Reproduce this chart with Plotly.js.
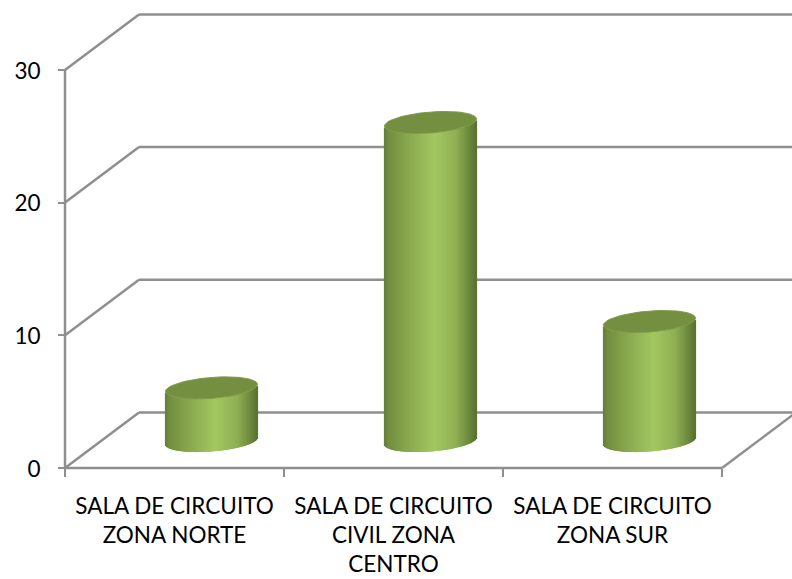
<!DOCTYPE html>
<html>
<head>
<meta charset="utf-8">
<script src="https://cdn.plot.ly/plotly-3.0.1.min.js"></script>
<style>html,body{margin:0;padding:0;background:#fff}#c{width:792px;height:579px}</style>
</head>
<body>
<div id="c"></div>
<script>
// Data
var categories = ["SALA DE CIRCUITO<br>ZONA NORTE", "SALA DE CIRCUITO<br>CIVIL ZONA<br>CENTRO", "SALA DE CIRCUITO<br>ZONA SUR"];
var values = [4, 24, 9];
var yTicks = [0, 10, 20, 30];

// Layout geometry
var W = 792, H = 579, left = 65, zeroY = 468;
var pxPerCat = 219, pxPerUnit = 13.27;
var xRange = [-left / pxPerCat, (W - left) / pxPerCat];
var yRange = [-(H - zeroY) / pxPerUnit, zeroY / pxPerUnit];
var depthX = 74 / pxPerCat, depthY = 55.5 / pxPerUnit;
var px = function (p) { return p / pxPerCat; };
var pv = function (p) { return p / pxPerUnit; };

// Wall and floor frame (drawn under the bars)
var gray = "#8f8f8f";
function seg(x0, y0, x1, y1) {
  return {type: "line", xref: "x", yref: "y", x0: x0, y0: y0, x1: x1, y1: y1, layer: "below",
          line: {color: gray, width: 2.5}};
}
var shapes = [];
shapes.push(seg(0, 0, 0, yTicks[yTicks.length - 1]));
shapes.push(seg(0, 0, categories.length, 0));
shapes.push(seg(categories.length, 0, categories.length + depthX, depthY));
yTicks.forEach(function (t) {
  shapes.push(seg(0, t, depthX, t + depthY));
  shapes.push(seg(depthX, t + depthY, xRange[1], t + depthY));
});

// Cylinder shading
var stops = [[0, [100, 126, 56]], [0.05, [114, 142, 64]], [0.25, [136, 167, 78]], [0.55, [163, 199, 97]],
             [0.78, [144, 176, 84]], [0.93, [108, 136, 60]], [1, [90, 114, 50]]];
function shade(f) {
  for (var i = 1; i < stops.length; i++) {
    if (f <= stops[i][0]) {
      var a = stops[i - 1], b = stops[i], k = (f - a[0]) / (b[0] - a[0]);
      return "rgb(" + [0, 1, 2].map(function (c) { return Math.round(a[1][c] + k * (b[1][c] - a[1][c])); }).join(",") + ")";
    }
  }
  return "rgb(90,114,50)";
}

var halfW = 46, semi = 10.5, shear = 3.5, baseRise = 27;
var traces = [], sx = [], sy = [], sb = [], sc = [];
values.forEach(function (v, i) {
  var cx = i + 0.5 + 37 / pxPerCat;
  for (var p = -halfW; p < halfW; p++) {
    var u = (p + 0.5) / halfW;
    var edge = pv(baseRise) + pv(shear) * u - pv(semi) * Math.sqrt(1 - u * u);
    sx.push(cx + px(p + 0.5));
    sy.push(v);
    sb.push(edge);
    sc.push(shade((u + 1) / 2));
  }
});
traces.push({type: "bar", x: sx, y: sy, base: sb, width: px(2.2), opacity: 1,
             marker: {color: sc, opacity: 1, line: {width: 0}}, hoverinfo: "skip", showlegend: false});

values.forEach(function (v, i) {
  var cx = i + 0.5 + 37 / pxPerCat, ex = [], ey = [];
  for (var k = 0; k <= 72; k++) {
    var t = k / 72 * 2 * Math.PI, u = Math.cos(t);
    ex.push(cx + px(halfW) * u);
    ey.push(v + pv(baseRise) + pv(shear) * u + pv(semi) * Math.sin(t));
  }
  traces.push({type: "scatter", mode: "lines", x: ex, y: ey, fill: "toself", fillcolor: "#748f40",
               line: {color: "#7f9c48", width: 1}, hoverinfo: "skip", showlegend: false});
});

var font = {family: "Lato, Carlito, sans-serif", size: 22.5, color: "#000"};
var layout = {
  width: W, height: H, showlegend: false, paper_bgcolor: "#fff", plot_bgcolor: "rgba(0,0,0,0)",
  margin: {l: 0, r: 0, t: 0, b: 0, pad: 0},
  barmode: "overlay",
  shapes: shapes,
  xaxis: {range: xRange, domain: [0, 1], anchor: "free", position: (H - zeroY) / H,
          showgrid: false, zeroline: false, showline: false,
          tickmode: "array", tickvals: [0.5, 1.5, 2.5], ticktext: categories, tickangle: 0,
          ticks: "", tickfont: font, ticklabelstandoff: 22,
          minor: {tickmode: "array", tickvals: [0, 1, 2, 3], ticks: "outside", ticklen: 8, tickwidth: 2.2, tickcolor: gray, showgrid: false}},
  yaxis: {range: yRange, domain: [0, 1], anchor: "free", position: left / W,
          showgrid: false, zeroline: false, showline: false,
          tickmode: "array", tickvals: yTicks, ticktext: yTicks.map(String),
          ticks: "outside", ticklen: 7, tickwidth: 2.2, tickcolor: gray, tickfont: font, ticklabelstandoff: 13, ticklabelshift: 1}
};
Plotly.newPlot("c", traces, layout, {displayModeBar: false, staticPlot: true});
</script>
</body>
</html>
